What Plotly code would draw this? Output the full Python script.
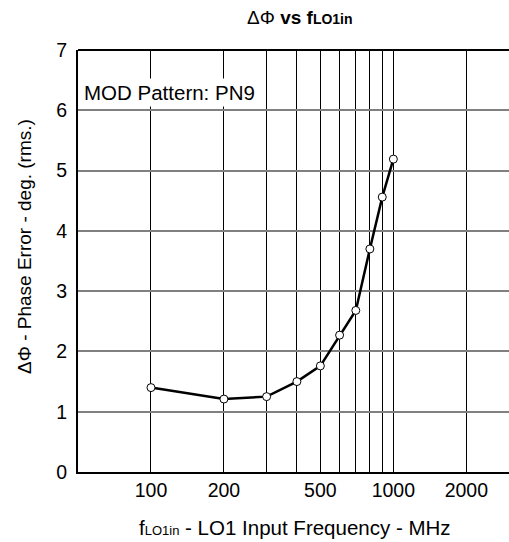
import plotly.graph_objects as go

freq_mhz = [100, 200, 300, 400, 500, 600, 700, 800, 900, 1000]
phase_err = [1.40, 1.21, 1.25, 1.50, 1.76, 2.27, 2.68, 3.70, 4.56, 5.19]

x_tick_vals = [100, 200, 500, 1000, 2000]
x_tick_text = ["100", "200", "500", "1000", "2000"]
x_grid_vals = [100, 200, 300, 400, 500, 600, 700, 800, 900, 1000, 2000]
y_tick_vals = [0, 1, 2, 3, 4, 5, 6, 7]

FONT = "Liberation Sans, Arial, sans-serif"
SUB = "<span style='font-size:13px'>LO1in</span>"

fig = go.Figure()
fig.add_trace(go.Scatter(
    x=freq_mhz, y=phase_err, mode="lines+markers",
    line=dict(color="black", width=2.5),
    marker=dict(symbol="circle", size=8, color="white",
                line=dict(color="black", width=1)),
    showlegend=False, hoverinfo="skip",
))

fig.update_layout(
    width=509, height=542,
    margin=dict(l=78, r=0, t=50, b=70),
    paper_bgcolor="white", plot_bgcolor="white",
    font=dict(family=FONT, color="black", size=18),
    xaxis=dict(
        type="log", range=[1.69897, 3.4771], automargin=False,
        tickmode="array", tickvals=x_tick_vals, ticktext=x_tick_text,
        showgrid=False, ticks="", showline=True, linecolor="black", linewidth=2,
        tickfont=dict(size=19.5), ticklabelstandoff=0,
        minor=dict(tickmode="array", tickvals=x_grid_vals, showgrid=True,
                   gridcolor="black", gridwidth=1, ticks=""),
        zeroline=False,
    ),
    yaxis=dict(
        range=[0, 7], tickmode="array", tickvals=y_tick_vals, automargin=False,
        showgrid=True, gridcolor="#808080", gridwidth=2,
        ticks="", showline=True, linecolor="black", linewidth=2,
        tickfont=dict(size=19.5), ticklabelstandoff=5, zeroline=False,
    ),
    shapes=[dict(type="line", xref="paper", yref="paper", x0=0, x1=1, y0=1, y1=1,
                 line=dict(color="black", width=2))],
    annotations=[
        dict(text="MOD Pattern: PN9", xref="paper", yref="paper",
             x=0.0, y=(472 - 92) / 422, xanchor="left", yanchor="middle",
             showarrow=False, bgcolor="white", borderpad=2, xshift=3,
             font=dict(size=20.5)),
        dict(text="ΔΦ <b>vs f</b><b><span style='font-size:14px'>LO1in</span></b>",
             xref="paper", yref="paper", x=(300 - 78) / 431, y=(542 - 17 - 70) / 422,
             xanchor="center", yanchor="middle", showarrow=False,
             font=dict(size=19)),
        dict(text="f" + SUB + " - LO1 Input Frequency - MHz",
             xref="paper", yref="paper", x=(295 - 78) / 431, y=(542 - 527 - 70) / 422,
             xanchor="center", yanchor="middle", showarrow=False,
             font=dict(size=20.5)),
        dict(text="ΔΦ - Phase Error - deg. (rms.)",
             xref="paper", yref="paper", x=(24 - 78) / 431, y=(472 - 247) / 422,
             xanchor="center", yanchor="middle", showarrow=False, textangle=-90,
             font=dict(size=19)),
    ],
)

fig.write_html(
    "out.html",
    config={"displayModeBar": False},
    post_script="document.body.style.margin='0';document.body.style.overflow='hidden';",
)
